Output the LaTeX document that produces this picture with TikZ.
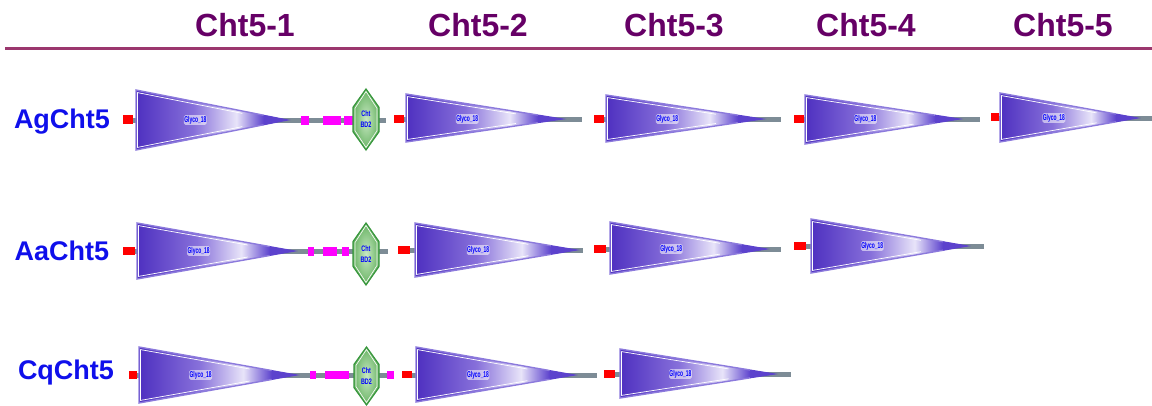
\documentclass[tikz,border=0pt]{standalone}
\usepackage{fontspec}
\setmainfont{Liberation Sans}
\usetikzlibrary{calc}
\definecolor{gA}{RGB}{78,48,192}
\definecolor{gB}{RGB}{135,112,218}
\definecolor{gC}{RGB}{232,228,249}
\definecolor{gD}{RGB}{92,66,205}
\definecolor{gEdge}{RGB}{140,122,220}
\definecolor{titlecol}{RGB}{102,0,102}
\definecolor{rulecol}{RGB}{155,55,110}
\definecolor{rowcol}{RGB}{15,15,235}
\definecolor{linkcol}{RGB}{125,140,150}
\definecolor{hexedge}{RGB}{55,150,60}
\definecolor{hexin}{RGB}{200,232,195}
\definecolor{hexout}{RGB}{105,180,100}
\definecolor{magbox}{RGB}{255,0,255}
\definecolor{redbox}{RGB}{255,0,0}
\pgfdeclarehorizontalshading{glyco}{100bp}{color(0bp)=(gA); color(25bp)=(gA); color(44bp)=(gB); color(58bp)=(gC); color(67bp)=(gD); color(75bp)=(gD); color(100bp)=(gD)}
\tikzset{
  title/.style={text=titlecol, font=\fontsize{32}{36}\selectfont\bfseries, inner sep=0pt},
  rowlabel/.style={text=rowcol, font=\fontsize{27}{30}\selectfont\bfseries, inner sep=0pt},
  link/.style={draw=linkcol, line width=5pt},
  sigbox/.style={fill=redbox, draw=none},
  lowbox/.style={fill=magbox, draw=none},
  glyedge/.style={draw=gEdge, line width=1.4pt, line join=miter},
  glytip/.style={draw=gD, line width=1pt, line join=miter},
  glyhl/.style={draw=white, line width=0.7pt},
  glylabel/.style={text=blue, fill=white, fill opacity=0.55, text opacity=1, rounded corners=1.5pt, inner sep=0.8pt, font=\fontsize{8.5}{9}\selectfont\bfseries, xscale=0.58},
  hexshape/.style={draw=hexedge, line width=1.2pt, inner color=hexin, outer color=hexout},
  hexlabel/.style={text=blue, align=center, font=\fontsize{8}{11}\selectfont\bfseries, xscale=0.68, inner sep=0pt},
}
% #1 name, #2 left x, #3 center y, #4 tip x, #5 top y, #6 bottom y
\newcommand\glycodom[6]{%
  \shade[shading=glyco] (#2,#5) -- (#4,#3) -- (#2,#6) -- cycle;
  \draw[glyedge] ({#2+0.84*(#4-#2)},{#5+0.84*(#3-#5)}) -- (#2,#5) -- (#2,#6) -- ({#2+0.84*(#4-#2)},{#6+0.84*(#3-#6)});
  \draw[glytip] ({#2+0.84*(#4-#2)},{#5+0.84*(#3-#5)}) -- (#4,#3) -- ({#2+0.84*(#4-#2)},{#6+0.84*(#3-#6)});
  \draw[glyhl] ({#2+0.7*(#4-#2)},{#5+0.7*(#3-#5)+2.4}) -- (#2+1.5,#5+2.6) -- (#2+1.5,#6-2.6) -- ({#2+0.7*(#4-#2)},{#6+0.7*(#3-#6)-2.4});
  \node[glylabel] (#1) at ({#2+0.39*(#4-#2)},#3) {Glyco\_18};
}
% #1 name, #2 center x, #3 top y, #4 bottom y, #5 half width
\newcommand\cbdhex[5]{%
  \path[hexshape] (#2,#3) -- (#2+#5,{#3+0.3*(#4-#3)}) -- (#2+#5,{#3+0.7*(#4-#3)}) -- (#2,#4) -- (#2-#5,{#3+0.7*(#4-#3)}) -- (#2-#5,{#3+0.3*(#4-#3)}) -- cycle;
  \draw[white, line width=0.6pt] (#2,#3+2.5) -- (#2+#5-2,{#3+0.3*(#4-#3)+1}) -- (#2+#5-2,{#3+0.7*(#4-#3)-1}) -- (#2,#4-2.5) -- (#2-#5+2,{#3+0.7*(#4-#3)-1}) -- (#2-#5+2,{#3+0.3*(#4-#3)+1}) -- cycle;
  \node[hexlabel] (#1) at (#2,{0.5*(#3+#4)}) {Cht\\BD2};
}
\begin{document}
\begin{tikzpicture}[x=1pt,y=-1pt]
\useasboundingbox (0,0) rectangle (1152,405);
% header
\node[title] (h1) at (245,25) {Cht5-1};
\node[title] (h2) at (478,25) {Cht5-2};
\node[title] (h3) at (674,25) {Cht5-3};
\node[title] (h4) at (866,25) {Cht5-4};
\node[title] (h5) at (1063,25) {Cht5-5};
\coordinate (ruleL) at (5,48.5);
\coordinate (ruleR) at (1152,48.5);
\draw[draw=rulecol, line width=3.5pt] (ruleL) -- (ruleR);
% row labels
\node[rowlabel] (ag) at (62,122) {AgCht5};
\node[rowlabel] (aa) at (62,251) {AaCht5};
\node[rowlabel] (cq) at (66,373) {CqCht5};

% ===== Row 1: AgCht5 =====
\coordinate (a1s) at (130,120); \coordinate (a1e) at (386,120);
\draw[link] (a1s) -- (a1e);
\fill[sigbox] (123,115) rectangle (133,124);
\glycodom{a1g}{136}{120}{288}{90}{150}
\fill[lowbox] (301,116) rectangle (309,125);
\fill[lowbox] (323,116) rectangle (341,125);
\fill[lowbox] (344,116) rectangle (353,125);
\cbdhex{a1c}{366}{89}{150}{13}

\coordinate (a2s) at (400,119); \coordinate (a2e) at (582,119);
\draw[link] (a2s) -- (a2e);
\fill[sigbox] (394,115) rectangle (404,123);
\glycodom{a2g}{406}{119}{563}{94}{142}

\coordinate (a3s) at (600,119); \coordinate (a3e) at (781,119);
\draw[link] (a3s) -- (a3e);
\fill[sigbox] (594,115) rectangle (604,123);
\glycodom{a3g}{606}{119}{763}{95}{142}

\coordinate (a4s) at (800,119); \coordinate (a4e) at (980,119);
\draw[link] (a4s) -- (a4e);
\fill[sigbox] (794,115) rectangle (804,123);
\glycodom{a4g}{805}{119}{960}{95}{144}

\coordinate (a5s) at (995,118); \coordinate (a5e) at (1152,118);
\draw[link] (a5s) -- (a5e);
\fill[sigbox] (991,113) rectangle (999,121);
\glycodom{a5g}{1000}{118}{1138}{93}{142}

% ===== Row 2: AaCht5 =====
\coordinate (b1s) at (130,251); \coordinate (b1e) at (388,251);
\draw[link] (b1s) -- (b1e);
\fill[sigbox] (123,247) rectangle (135,255);
\glycodom{b1g}{137}{251}{295}{223}{279}
\fill[lowbox] (308,247) rectangle (314,256);
\fill[lowbox] (323,247) rectangle (337,256);
\fill[lowbox] (342,247) rectangle (349,256);
\cbdhex{b1c}{366}{223}{285}{13}

\coordinate (b2s) at (405,250); \coordinate (b2e) at (583,250);
\draw[link] (b2s) -- (b2e);
\fill[sigbox] (398,246) rectangle (410,254);
\glycodom{b2g}{415}{250}{577}{223}{277}

\coordinate (b3s) at (600,249); \coordinate (b3e) at (781,249);
\draw[link] (b3s) -- (b3e);
\fill[sigbox] (594,245) rectangle (606,253);
\glycodom{b3g}{610}{249}{767}{222}{274}

\coordinate (b4s) at (800,246); \coordinate (b4e) at (984,246);
\draw[link] (b4s) -- (b4e);
\fill[sigbox] (794,242) rectangle (806,250);
\glycodom{b4g}{811}{246}{968}{219}{273}

% ===== Row 3: CqCht5 =====
\coordinate (c1s) at (133,375); \coordinate (c1e) at (393,375);
\draw[link] (c1s) -- (c1e);
\fill[sigbox] (129,371) rectangle (137,379);
\glycodom{c1g}{139}{375}{297}{347}{403}
\fill[lowbox] (310,371) rectangle (316,379);
\fill[lowbox] (325,371) rectangle (349,379);
\fill[lowbox] (387,371) rectangle (394,379);
\cbdhex{c1c}{366.5}{347}{405}{12.5}

\coordinate (c2s) at (407,375); \coordinate (c2e) at (597,375);
\draw[link] (c2s) -- (c2e);
\fill[sigbox] (402,371) rectangle (412,378);
\glycodom{c2g}{416}{375}{575}{347}{402}

\coordinate (c3s) at (610,374); \coordinate (c3e) at (791,374);
\draw[link] (c3s) -- (c3e);
\fill[sigbox] (604,370) rectangle (615,378);
\glycodom{c3g}{620}{374}{775}{349}{398}
\end{tikzpicture}
\end{document}
